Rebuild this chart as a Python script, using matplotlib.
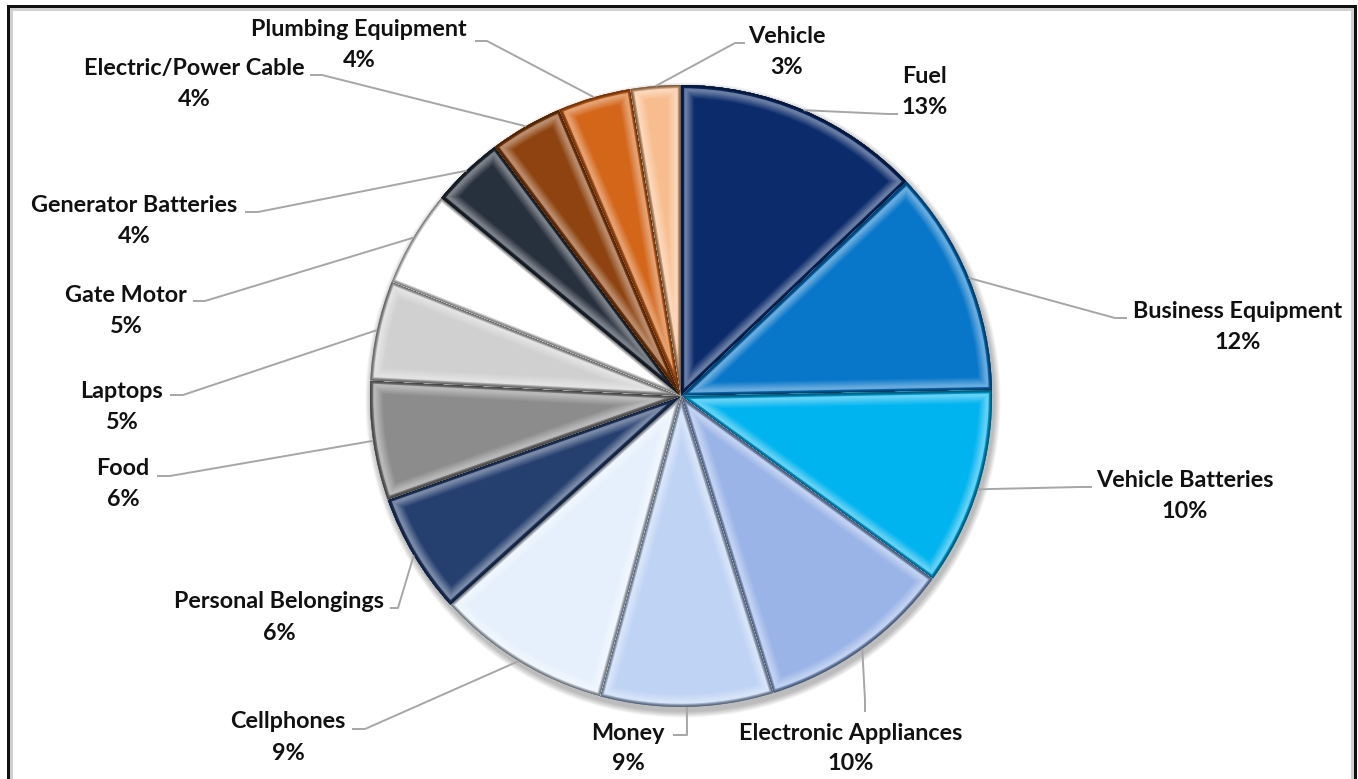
import numpy as np
import matplotlib.pyplot as plt
from matplotlib.patches import Wedge, Rectangle, Circle
from matplotlib.colors import to_rgb

# data, clockwise from 12 o'clock
categories = [
    "Fuel",
    "Business Equipment",
    "Vehicle Batteries",
    "Electronic Appliances",
    "Money",
    "Cellphones",
    "Personal Belongings",
    "Food",
    "Laptops",
    "Gate Motor",
    "Generator Batteries",
    "Electric/Power Cable",
    "Plumbing Equipment",
    "Vehicle",
]
shares = [12.9, 11.8, 10.3, 10.2, 9.0, 9.1, 6.3, 6.2, 5.2, 5.0, 3.8, 3.8, 3.8, 2.6]
colors = [
    "#0B2B6B", "#0876C9", "#00B4F0", "#9AB4E8", "#BFD3F4", "#E6F0FC", "#253F6F",
    "#8C8C8C", "#D0D0D0", "#FFFFFF", "#27303D", "#8E4310", "#D4661A", "#F8BD8E",
]

# label layout in picture pixels (x centre, y of name line), leader elbow and end
label_pos = [
    (925, 76), (1238, 311), (1185, 480), (851, 733), (628, 733), (288, 722),
    (279, 602), (123, 468), (122, 391), (126, 295), (134, 205), (194, 68),
    (359, 29), (787, 36),
]
leader_elbow = [
    (888, 114), (1115, 318), (1080, 487), (865, 700), (687, 735), (365, 729),
    (398, 608), (170, 476), (183, 395), (205, 301), (258, 212), (322, 75),
    (487, 41), (735, 43),
]
leader_end = [
    (898, 114), (1127, 318), (1092, 487), (865, 712), (673, 735), (352, 729),
    (390, 608), (157, 476), (170, 395), (193, 301), (245, 212), (310, 75),
    (475, 41), (745, 43),
]

W, H = 1358, 779
CX, CY, R = 681, 396, 311


def py(y):
    return H - y


def blend(c, other, t):
    a = np.array(to_rgb(c))
    b = np.array(to_rgb(other))
    return tuple(a * (1 - t) + b * t)


def px2pt(p):
    return p * 72 / 100


fig = plt.figure(figsize=(W / 100, H / 100), dpi=100)
ax = fig.add_axes([0, 0, 1, 1])

# soft shadow under the pie
for k in range(8):
    ax.add_patch(Circle((CX + 2, py(CY) - 4), R + 1 + k * 0.8,
                        facecolor="#000000", alpha=0.035, lw=0, zorder=0))

wedges, _ = ax.pie(
    shares,
    colors=colors,
    startangle=90,
    counterclock=False,
    center=(CX, py(CY)),
    radius=R,
    wedgeprops=dict(linewidth=0),
)

# bevel look: strokes along each wedge outline, clipped to the wedge
for w, c in zip(wedges, colors):
    w.set_zorder(2)
    hi = blend(c, "white", 0.38)
    dark = blend(c, "black", 0.5)
    for d in [14, 13, 12, 11, 10, 9, 8, 7, 6]:
        t = (14 - d) / 8
        col = blend(c, hi, t)
        e = Wedge(w.center, w.r, w.theta1, w.theta2, fill=False,
                  edgecolor=col, linewidth=px2pt(2 * d), zorder=3)
        e.set_clip_path(w)
        ax.add_patch(e)
    for d, col in [(5, hi), (3.2, blend(c, dark, 0.35)),
                   (2.2, blend(c, dark, 0.7)), (1.2, dark)]:
        e = Wedge(w.center, w.r, w.theta1, w.theta2, fill=False,
                  edgecolor=col, linewidth=px2pt(2 * d), zorder=3)
        e.set_clip_path(w)
        ax.add_patch(e)

total = sum(shares)
font = dict(family=["Lato", "DejaVu Sans"], weight="bold", size=16.8, color="#111111")

for w, name, v, (tx, ty), el, en in zip(wedges, categories, shares,
                                        label_pos, leader_elbow, leader_end):
    mid = np.deg2rad((w.theta1 + w.theta2) / 2)
    sx = CX + R * np.cos(mid)
    sy = py(CY) + R * np.sin(mid)
    ax.plot([sx, el[0], en[0]], [sy, py(el[1]), py(en[1])],
            color="#A6A6A6", lw=1.4, zorder=4, solid_capstyle="butt")
    ax.text(tx, py(ty), name, ha="center", va="center", zorder=5, **font)
    ax.text(tx, py(ty + 31), f"{round(v / total * 100):.0f}%",
            ha="center", va="center", zorder=5, **font)

# chart frame (bottom edge runs off the picture)
ax.add_patch(Rectangle((10.5, -20), 1341, H - 8.5 + 20, fill=False,
                       edgecolor="#D0D0D0", lw=px2pt(3), zorder=6))
ax.add_patch(Rectangle((7.5, -20), 1347, H - 5.5 + 20, fill=False,
                       edgecolor="#111111", lw=px2pt(3), zorder=7))

ax.set_xlim(0, W)
ax.set_ylim(0, H)
ax.set_aspect("auto")
ax.axis("off")

fig.savefig("out.png", dpi=100, facecolor="white")
